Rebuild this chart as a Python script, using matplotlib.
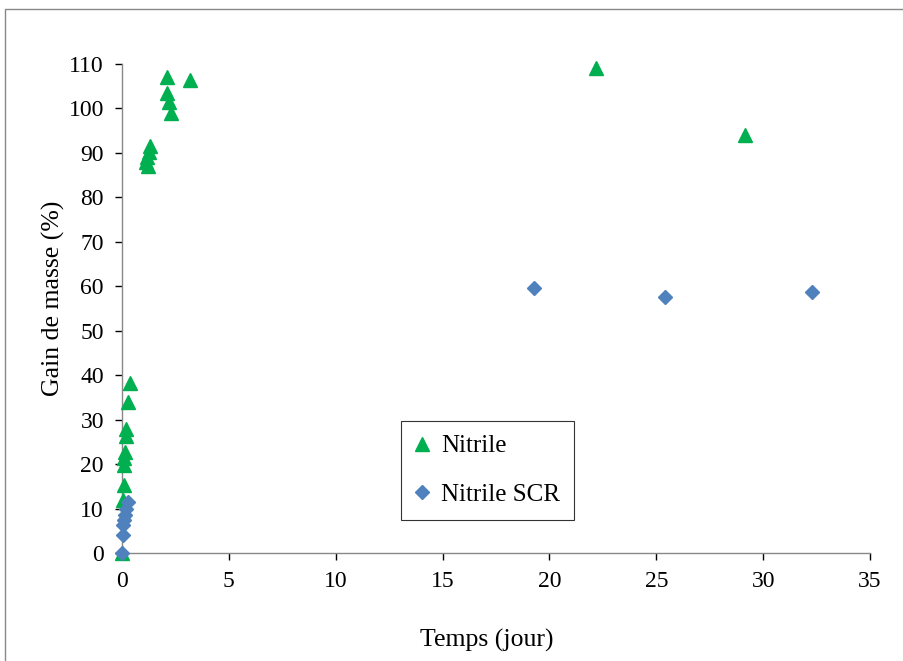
import matplotlib
matplotlib.use("Agg")
import matplotlib.pyplot as plt
from matplotlib.patches import Rectangle

plt.rcParams['font.family'] = ['Liberation Serif', 'DejaVu Serif']

nitrile_x = [0.0, 0.05, 0.08, 0.1, 0.1, 0.12, 0.18, 0.2, 0.29, 0.37,
             1.1, 1.15, 1.2, 1.25, 1.31,
             2.1, 2.1, 2.2, 2.3, 3.18, 22.18, 29.15]
nitrile_y = [0.0, 12.0, 15.3, 19.8, 21.4, 22.7, 26.3, 28.0, 34.0, 38.2,
             88.0, 89.0, 87.0, 90.2, 91.5,
             107.0, 103.5, 101.5, 99.0, 106.3, 109.1, 94.0]

scr_x = [0.0, 0.05, 0.06, 0.1, 0.15, 0.2, 0.28, 19.28, 25.41, 32.29]
scr_y = [0.0, 4.0, 6.3, 7.4, 8.6, 10.0, 11.5, 59.5, 57.5, 58.8]

xticks = [0, 5, 10, 15, 20, 25, 30, 35]
yticks = [0, 10, 20, 30, 40, 50, 60, 70, 80, 90, 100, 110]

W, H = 904, 661
fig = plt.figure(figsize=(W / 100, H / 100), dpi=100)
ax_l, ax_r, ax_b, ax_t = 122, 870, 553, 64
ax = fig.add_axes([ax_l / W, (H - ax_b) / H, (ax_r - ax_l) / W, (ax_b - ax_t) / H])
aw, ah = ax_r - ax_l, ax_b - ax_t

ax.plot(nitrile_x, nitrile_y, linestyle='none', marker='^', markersize=10,
        color='#00B050', label='Nitrile', clip_on=False, zorder=3)
ax.plot(scr_x, scr_y, linestyle='none', marker='D', markersize=7,
        color='#4F81BD', label='Nitrile SCR', clip_on=False, zorder=4)

ax.set_xlim(0, 35)
ax.set_ylim(0, 110)
ax.set_xticks(xticks)
ax.set_yticks(yticks)
ax.tick_params(axis='both', labelsize=17, colors='black', length=5,
               width=1, direction='out', pad=8)
for t in ax.xaxis.get_ticklines() + ax.yaxis.get_ticklines():
    t.set_color('#888888')
for s in ['top', 'right']:
    ax.spines[s].set_visible(False)
for s in ['left', 'bottom']:
    ax.spines[s].set_color('#888888')
    ax.spines[s].set_linewidth(1)

ax.set_xlabel('Temps (jour)', fontsize=18.5)
ax.set_ylabel('Gain de masse (%)', fontsize=18.5)
ax.xaxis.set_label_coords((487 - ax_l) / aw, (ax_b - 640) / ah)
ax.xaxis.label.set_va('center')
ax.yaxis.set_label_coords((53 - ax_l) / aw, (ax_b - 298) / ah)
ax.yaxis.label.set_va('center')

leg = ax.legend(loc='upper left', bbox_to_anchor=((401 - ax_l) / aw, (ax_b - 421) / ah),
                fontsize=18, frameon=True, fancybox=False, edgecolor='black',
                handlelength=0.6, handletextpad=0.45, borderpad=0.55,
                labelspacing=1.05, borderaxespad=0)
leg.get_frame().set_linewidth(0.8)

fig.patches.append(Rectangle((5 / W, -0.01), 1.0, (H - 9) / H + 0.01,
                             transform=fig.transFigure, fill=False,
                             edgecolor='#888888', linewidth=1))

fig.savefig('out.png', dpi=100)
